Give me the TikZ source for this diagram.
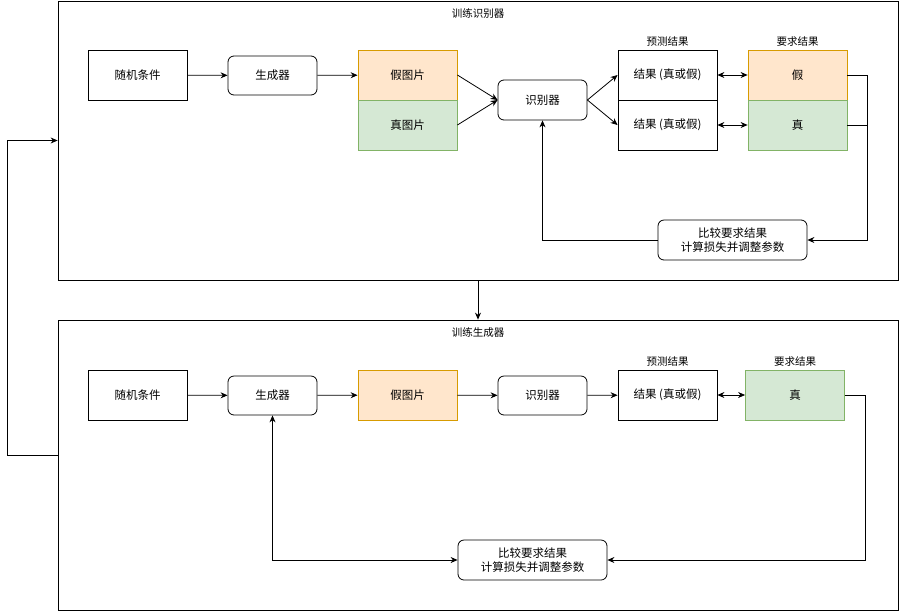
\documentclass[tikz,border=0pt]{standalone}
\usepackage{fontspec}
\setmainfont{Noto Sans CJK SC}
\usetikzlibrary{arrows.meta,positioning}
\definecolor{FakeFill}{HTML}{FFE6CC}
\definecolor{FakeLine}{HTML}{D79B00}
\definecolor{RealFill}{HTML}{D5E8D4}
\definecolor{RealLine}{HTML}{82B366}
\tikzset{
    % Base node style
    basenode/.style={
        draw=black,
        fill=white,
        line width=0.8pt,
        minimum width=99pt,
        minimum height=50pt,
        inner sep=1pt,
        align=center,
        font=\fontsize{11.5}{14}\selectfont
    },
    % Stage frame
    stagebox/.style={
        basenode,
        minimum width=840pt
    },
    % Rounded process box
    procnode/.style={
        basenode,
        rounded corners=6pt,
        minimum width=89pt,
        minimum height=39pt
    },
    % Loss box
    lossnode/.style={
        procnode,
        minimum width=149pt,
        minimum height=40pt
    },
    % Fake picture / label
    fakenode/.style={
        basenode,
        fill=FakeFill,
        draw=FakeLine
    },
    % Real picture / label
    realnode/.style={
        basenode,
        fill=RealFill,
        draw=RealLine
    },
    % Plain caption
    caption/.style={
        inner sep=0pt,
        font=\fontsize{10.5}{13}\selectfont
    },
    % Arrow styles
    myarrow/.style={
        -{Stealth[length=7pt,width=6pt]},
        line width=0.8pt,
        draw=black
    },
    biarrow/.style={
        {Stealth[length=7pt,width=6pt]}-{Stealth[length=7pt,width=6pt]},
        line width=0.8pt,
        draw=black
    },
    plainline/.style={
        line width=0.8pt,
        draw=black
    }
}

\begin{document}
\begin{tikzpicture}[x=1pt, y=-1pt]
    \useasboundingbox (0,0) rectangle (899,611);

    % Stage 1: train discriminator
    \node[stagebox, minimum height=279pt] (stage1) at (478,140.5) {};
    \node[caption] (title1) at (478,14) {训练识别器};

    \node[basenode] (rand1) at (137.5,75) {随机条件};
    \node[procnode] (gen1) at (272.5,75.5) {生成器};
    \node[fakenode] (fake1) at (407.5,75) {假图片};
    \node[realnode] (real1) at (407.5,125) {真图片};
    \node[procnode, minimum height=40pt] (disc1) at (542.5,100) {识别器};
    \node[basenode] (pred1a) at (667.5,75) {结果 (真或假)};
    \node[basenode] (pred1b) at (667.5,125) {结果 (真或假)};
    \node[fakenode] (want1a) at (797.5,75) {假};
    \node[realnode] (want1b) at (797.5,125) {真};
    \node[caption, above=3pt of pred1a] (predcap1) {预测结果};
    \node[caption, above=3pt of want1a] (wantcap1) {要求结果};
    \node[lossnode] (loss1) at (732.5,240) {比较要求结果\\计算损失并调整参数};

    \draw[myarrow] (rand1) -- (gen1);
    \draw[myarrow] (gen1) -- (fake1);
    \draw[myarrow] (fake1.east) -- (disc1.west);
    \draw[myarrow] (real1.east) -- (disc1.west);
    \draw[myarrow] (disc1.east) -- (pred1a.west);
    \draw[myarrow] (disc1.east) -- (pred1b.west);
    \draw[biarrow] (pred1a) -- (want1a);
    \draw[biarrow] (pred1b) -- (want1b);
    \draw[myarrow] (want1a.east) -- ++(20,0) |- (loss1.east);
    \draw[plainline] (want1b.east) -- ++(20,0);
    \draw[myarrow] (loss1.west) -| (disc1.south);

    % Stage 2: train generator
    \node[stagebox, minimum height=290pt] (stage2) at (478,465) {};
    \node[caption] (title2) at (478,333) {训练生成器};

    \node[basenode] (rand2) at (137.5,395) {随机条件};
    \node[procnode] (gen2) at (272.5,395.5) {生成器};
    \node[fakenode] (fake2) at (407.5,395) {假图片};
    \node[procnode] (disc2) at (542.5,395.5) {识别器};
    \node[basenode] (pred2) at (667.5,395) {结果 (真或假)};
    \node[realnode] (want2) at (795,395) {真};
    \node[caption, above=3pt of pred2] (predcap2) {预测结果};
    \node[caption, above=3pt of want2] (wantcap2) {要求结果};
    \node[lossnode] (loss2) at (532.5,560) {比较要求结果\\计算损失并调整参数};

    \draw[myarrow] (rand2) -- (gen2);
    \draw[myarrow] (gen2) -- (fake2);
    \draw[myarrow] (fake2) -- (disc2);
    \draw[myarrow] (disc2) -- (pred2);
    \draw[biarrow] (pred2) -- (want2);
    \draw[myarrow] (want2.east) -- ++(20,0) |- (loss2.east);
    \draw[biarrow] (gen2.south) |- (loss2.west);

    % Links between stages
    \draw[myarrow] (stage1.south) -- (stage2.north);
    \draw[myarrow] ([yshift=10pt]stage2.west) -- ++(-50,0) |- (stage1.west);
\end{tikzpicture}
\end{document}
